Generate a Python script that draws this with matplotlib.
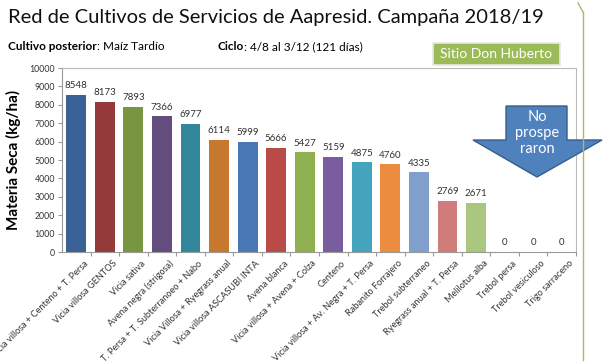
import matplotlib.pyplot as plt
from matplotlib.patches import Polygon, Rectangle
from matplotlib.lines import Line2D

plt.rcParams['font.family'] = ['Lato', 'DejaVu Sans']

# datos
cultivos = ["Vicia villosa + Centeno + T. Persa", "Vicia villosa GENTOS", "Vicia sativa",
            "Avena negra (strigosa)", "T. Persa + T. Subterranoeo + Nabo",
            "Vicia Villosa + Ryegrass anual", "Vicia villosa ASCASUBI INTA", "Avena blanca",
            "Vicia villosa + Avena + Colza", "Centeno", "Vicia villosa + Av. Negra + T. Persa",
            "Rabanito Forrajero", "Trebol subterraneo", "Ryegrass anual + T. Persa",
            "Melilotus alba", "Trebol persa", "Trebol vesiculoso", "Trigo sarraceno"]
materia_seca = [8548, 8173, 7893, 7366, 6977, 6114, 5999, 5666, 5427, 5159,
                4875, 4760, 4335, 2769, 2671, 0, 0, 0]
colores = ["#3B6296", "#953A3A", "#77963F", "#634D7E", "#33879C", "#C7782F",
           "#4A78B6", "#B94A48", "#8FB04F", "#7A5D9E", "#44A3BD", "#EB8C3E",
           "#819FCB", "#CF7C7B", "#ABC77F", "#FFFFFF", "#FFFFFF", "#FFFFFF"]
y_ticks = list(range(0, 10001, 1000))

W, H = 606, 364
fig = plt.figure(figsize=(W / 100, H / 100), dpi=100)
ax = fig.add_axes([62 / W, 1 - 252 / H, (576 - 62) / W, (252 - 68) / H])

x = range(len(cultivos))
bars = ax.bar(x, materia_seca, width=0.7, color=colores)
for xi, v in zip(x, materia_seca):
    ax.text(xi, v + 250, str(v), ha='center', va='bottom', fontsize=7, color='#333333')

ax.set_xlim(-0.5, len(cultivos) - 0.5)
ax.set_ylim(0, 10000)
ax.set_yticks(y_ticks)
ax.set_yticklabels([str(t) for t in y_ticks], fontsize=6.3, color='#333333')
ax.set_xticks([i + 0.5 for i in x])
ax.set_xticklabels([])
ax.set_xticks([i + 0.25 for i in x], minor=True)
ax.set_xticklabels(cultivos, minor=True, rotation=45, ha='right', rotation_mode='anchor',
                   fontsize=6.6, color='#333333')
ax.tick_params(axis='x', which='minor', length=0, pad=5)
ax.tick_params(axis='x', which='major', length=3, color='#999999')
ax.tick_params(axis='y', length=3, color='#999999', pad=2)
for s in ax.spines.values():
    s.set_color('#BBBBBB')
    s.set_linewidth(0.8)
ax.spines['left'].set_color('#999999')
ax.spines['bottom'].set_color('#999999')

ax.set_ylabel("Materia Seca (kg/ha)", fontsize=11, fontweight='bold', labelpad=6)

# titulos
fig.text(8 / W, 1 - 18 / H, "Red de Cultivos de Servicios de Aapresid. Campaña 2018/19",
         fontsize=14.5, va='center', ha='left', color='#111111')

fig.canvas.draw()
r = fig.canvas.get_renderer()
t1 = fig.text(8 / W, 1 - 47 / H, "Cultivo posterior", fontsize=8.5, fontweight='bold', va='center')
e1 = t1.get_window_extent(r)
fig.text(e1.x1 / W, 1 - 47 / H, ": Maíz Tardío", fontsize=8.5, va='center')
t2 = fig.text(218 / W, 1 - 47 / H, "Ciclo", fontsize=8.5, fontweight='bold', va='center')
e2 = t2.get_window_extent(r)
fig.text(e2.x1 / W, 1 - 47 / H, ": 4/8 al 3/12 (121 días)", fontsize=8.5, va='center')

# recuadro verde
fig.patches.append(Rectangle((433 / W, 1 - 65 / H), 127 / W, 22 / H, transform=fig.transFigure,
                             facecolor='#9BBB59', edgecolor='#E8E8E8', linewidth=1.2))
fig.text(496 / W, 1 - 54 / H, "Sitio Don Huberto", fontsize=10, color='white',
         ha='center', va='center')

# flecha
pts = [(506, 106), (567, 106), (567, 140), (602, 140), (537, 177), (473, 140), (506, 140)]
fig.patches.append(Polygon([(px / W, 1 - py / H) for px, py in pts], closed=True,
                           transform=fig.transFigure, facecolor='#4F81BD',
                           edgecolor='#385D8A', linewidth=1))
fig.text(537 / W, 1 - 133 / H, "No\nprospe\nraron", fontsize=10.5, color='white',
         ha='center', va='center', linespacing=1.2)

# linea lateral
fig.add_artist(Line2D([583 / W, 583 / W], [1 - 360 / H, 1 - 12 / H],
                      transform=fig.transFigure, color='#B5B56A', linewidth=1))
fig.add_artist(Line2D([583 / W, 578 / W], [1 - 12 / H, 1 - 3 / H],
                      transform=fig.transFigure, color='#B5B56A', linewidth=1))

fig.savefig("out.png", dpi=100)
